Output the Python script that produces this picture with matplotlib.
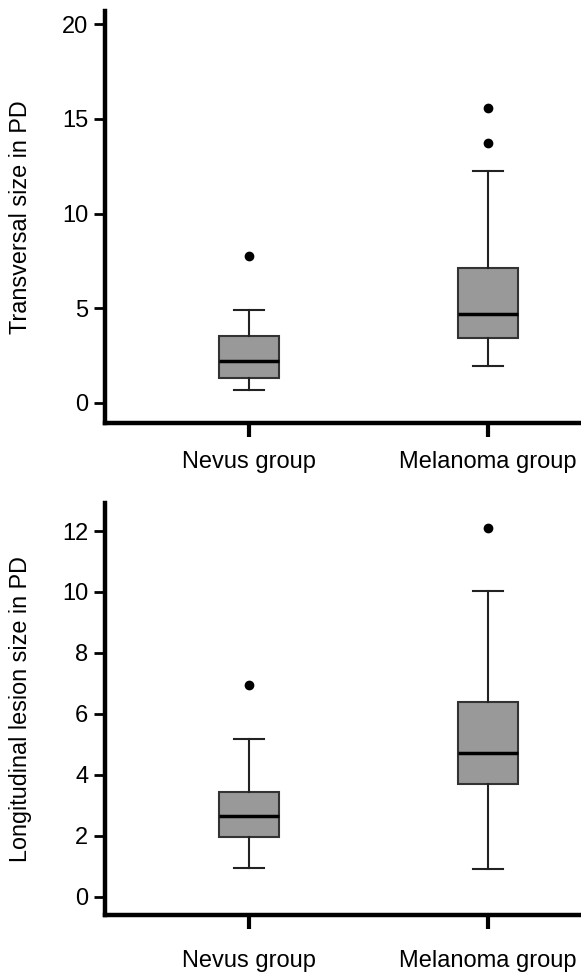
import matplotlib.pyplot as plt

plt.rcParams['font.family'] = ['Liberation Sans', 'DejaVu Sans']

groups = ['Nevus group', 'Melanoma group']

# transversal size (PD): whisker low, Q1, median, Q3, whisker high, outliers
trans_whislo = [0.69, 1.95]
trans_q1 = [1.32, 3.41]
trans_med = [2.22, 4.68]
trans_q3 = [3.54, 7.10]
trans_whishi = [4.90, 12.26]
trans_fliers = [[7.76], [13.74, 15.58]]

# longitudinal lesion size (PD)
long_whislo = [0.95, 0.91]
long_q1 = [1.97, 3.70]
long_med = [2.66, 4.71]
long_q3 = [3.45, 6.40]
long_whishi = [5.17, 10.03]
long_fliers = [[6.95], [12.09]]


def make_stats(lo, q1, med, q3, hi, fl):
    stats = []
    for i in range(len(groups)):
        stats.append(dict(whislo=lo[i], q1=q1[i], med=med[i], q3=q3[i],
                          whishi=hi[i], fliers=fl[i], label=groups[i]))
    return stats


def draw_panel(ax, stats, ylim, yticks, ylabel, xpad):
    ax.bxp(stats, positions=[1, 2], widths=0.25, patch_artist=True,
           boxprops=dict(facecolor='#999999', edgecolor='#333333', linewidth=1.5),
           medianprops=dict(color='black', linewidth=2.5),
           whiskerprops=dict(color='#222222', linewidth=1.5),
           capprops=dict(color='#222222', linewidth=1.5),
           capwidths=0.125,
           flierprops=dict(marker='o', markerfacecolor='black',
                           markeredgecolor='black', markersize=6))
    ax.set_xlim(0.397, 2.39)
    ax.set_ylim(*ylim)
    ax.set_yticks(yticks)
    ax.set_xticks([1, 2])
    ax.set_xticklabels(groups)
    for side in ['top', 'right']:
        ax.spines[side].set_visible(False)
    ax.spines['left'].set_linewidth(3.2)
    ax.spines['bottom'].set_linewidth(3.2)
    ax.tick_params(axis='y', length=8, width=2, labelsize=17, pad=4)
    ax.tick_params(axis='x', length=10, width=3, labelsize=17, pad=xpad)
    ax.set_ylabel(ylabel, fontsize=16.8, labelpad=22)


fig = plt.figure(figsize=(5.81, 9.74), dpi=100)
ax1 = fig.add_axes([0.1807, 0.5657, 0.8193, 0.423])
ax2 = fig.add_axes([0.1807, 0.0606, 0.8193, 0.423])

draw_panel(ax1, make_stats(trans_whislo, trans_q1, trans_med, trans_q3,
                           trans_whishi, trans_fliers),
           (-1.06, 20.69), [0, 5, 10, 15, 20], 'Transversal size in PD', 10)
draw_panel(ax2, make_stats(long_whislo, long_q1, long_med, long_q3,
                           long_whishi, long_fliers),
           (-0.6, 12.92), [0, 2, 4, 6, 8, 10, 12], 'Longitudinal lesion size in PD', 15)

fig.savefig('out.png', dpi=100)
